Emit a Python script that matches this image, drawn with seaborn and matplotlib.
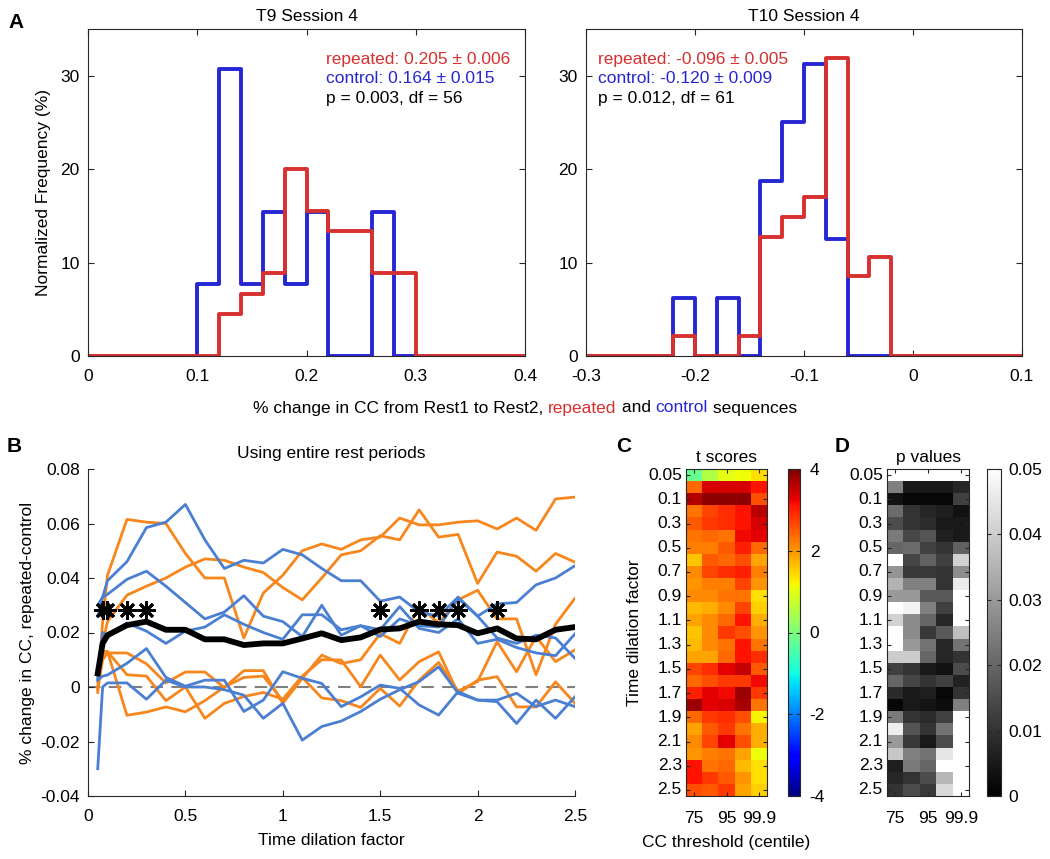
import numpy as np
import pandas as pd
import matplotlib
matplotlib.use("Agg")
import matplotlib.pyplot as plt
from matplotlib.ticker import FuncFormatter
import seaborn as sns

# ---------------- data ----------------
# Panel A: counts per 0.02 bin (stat="percent" turns them into normalized frequency)
t9_edges = np.round(np.linspace(0.0, 0.4, 21), 3)
t9_repeated = [0, 0, 0, 0, 0, 0, 2, 3, 4, 9, 7, 6, 6, 4, 4, 0, 0, 0, 0, 0]
t9_control = [0, 0, 0, 0, 0, 1, 4, 1, 2, 1, 2, 0, 0, 2, 0, 0, 0, 0, 0, 0]
t10_edges = np.round(np.linspace(-0.3, 0.1, 21), 3)
t10_repeated = [0, 0, 0, 0, 1, 0, 0, 1, 6, 7, 8, 15, 4, 5, 0, 0, 0, 0, 0, 0]
t10_control = [0, 0, 0, 0, 1, 0, 1, 0, 3, 4, 5, 2, 0, 0, 0, 0, 0, 0, 0, 0]

t9_stats = ["repeated: 0.205 \u00b1 0.006", "control: 0.164 \u00b1 0.015", "p = 0.003, df = 56"]
t10_stats = ["repeated: -0.096 \u00b1 0.005", "control: -0.120 \u00b1 0.009", "p = 0.012, df = 61"]

# Panel B: time dilation factors and per-participant differences
dilation = [0.05, 0.075, 0.1, 0.2, 0.3, 0.4, 0.5, 0.6, 0.7, 0.8, 0.9, 1.0, 1.1, 1.2,
            1.3, 1.4, 1.5, 1.6, 1.7, 1.8, 1.9, 2.0, 2.1, 2.2, 2.3, 2.4, 2.5]

orange_1 = [-0.002, 0.024, 0.041, 0.0615, 0.0605, 0.060, 0.049, 0.040, 0.040, 0.018, 0.0345,
            0.041, 0.050, 0.0525, 0.0505, 0.054, 0.055, 0.062, 0.0595, 0.0595, 0.0605, 0.061,
            0.058, 0.062, 0.0575, 0.069, 0.0697]
orange_2 = [0.004, 0.016, 0.024, 0.0337, 0.037, 0.040, 0.044, 0.047, 0.0465, 0.044, 0.042,
            0.0365, 0.032, 0.040, 0.0485, 0.050, 0.0555, 0.054, 0.065, 0.055, 0.056, 0.038,
            0.0495, 0.048, 0.0425, 0.049, 0.0458]
orange_3 = [-0.001, 0.010, 0.0125, 0.0125, 0.0085, 0.0015, 0.0055, 0.0055, -0.0002, 0.006,
            0.006, -0.006, 0.0032, 0.0117, 0.0086, 0.010, 0.0196, 0.016, 0.0295, 0.0235, 0.032,
            0.0355, 0.025, 0.025, 0.0045, 0.023, 0.0326]
orange_4 = [0.0, 0.012, 0.013, 0.0045, 0.004, -0.005, 0.0, -0.0115, -0.006, -0.0035, -0.002,
            -0.0045, 0.004, 0.010, 0.0099, 0.0001, 0.0117, 0.0026, 0.0093, 0.0129, -0.0024,
            0.0025, 0.0038, -0.0073, -0.0073, 0.0019, -0.006]
orange_5 = [0.002, 0.013, 0.013, -0.0104, -0.0092, -0.0073, -0.0091, -0.005, 0.0, 0.0035,
            0.004, -0.005, 0.0035, -0.004, -0.005, -0.0075, -0.0005, -0.007, 0.0025, 0.009,
            -0.0015, 0.002, 0.0166, 0.0056, 0.0185, 0.0093, 0.0136]
blue_1 = [0.026, 0.033, 0.039, 0.046, 0.0585, 0.0605, 0.067, 0.054, 0.0435, 0.0465, 0.0455,
          0.0505, 0.0485, 0.0435, 0.039, 0.039, 0.0315, 0.033, 0.0275, 0.026, 0.033, 0.026,
          0.0305, 0.031, 0.0375, 0.040, 0.0445]
blue_2 = [0.030, 0.033, 0.034, 0.0395, 0.0425, 0.037, 0.031, 0.025, 0.0275, 0.0335, 0.026,
          0.024, 0.0185, 0.030, 0.019, 0.0225, 0.021, 0.0295, 0.0215, 0.020, 0.025, 0.016,
          0.0175, 0.0145, 0.0125, 0.0115, 0.0195]
blue_3 = [0.003, 0.020, 0.019, 0.0235, 0.0205, 0.016, 0.0205, 0.022, 0.0265, 0.023, 0.020,
          0.0175, 0.0265, 0.0265, 0.021, 0.0225, 0.0185, 0.025, 0.0225, 0.022, 0.0325, 0.026,
          0.018, 0.016, 0.019, 0.018, 0.0105]
blue_4 = [0.0025, 0.004, 0.0044, 0.0087, 0.0141, 0.0035, 0.0003, 0.0025, 0.0025, -0.009,
          -0.0048, 0.0056, 0.0032, 0.0013, -0.0072, -0.0036, 0.0007, -0.0005, -0.0066,
          -0.0103, -0.0017, -0.0048, -0.0054, -0.0134, -0.0048, -0.0115, -0.0036]
blue_5 = [-0.030, 0.0, 0.0015, 0.0015, -0.0045, 0.0025, 0.0, 0.0, -0.001, -0.003, -0.0115,
          -0.006, -0.0195, -0.0145, -0.0125, -0.009, -0.0045, -0.001, 0.002, 0.0074, -0.0023,
          -0.0048, -0.0048, -0.0023, -0.0072, -0.0048, -0.0072]
mean_diff = [0.005, 0.016, 0.019, 0.0227, 0.024, 0.021, 0.021, 0.0175, 0.0175, 0.0154, 0.016,
             0.016, 0.0178, 0.0197, 0.0172, 0.0182, 0.0211, 0.0215, 0.024, 0.023, 0.0227,
             0.0197, 0.0215, 0.0178, 0.0175, 0.021, 0.022]
signif_x = [0.075, 0.1, 0.2, 0.3, 1.5, 1.7, 1.8, 1.9, 2.1]
signif_y = 0.0283

# Panels C/D: rows = dilation factor, columns = CC threshold centile
centiles = ["75", "90", "95", "99", "99.9"]
t_scores = [
    [-0.2, 0.5, 1.0, 1.1, 1.4], [2.4, 3.4, 3.4, 3.4, 3.1], [3.6, 3.9, 3.9, 3.9, 2.6],
    [2.3, 2.7, 2.9, 3.1, 3.6], [2.5, 2.8, 2.9, 3.1, 3.4], [2.3, 2.4, 2.3, 3.2, 3.3],
    [2.2, 2.2, 2.5, 3.0, 2.4], [1.6, 2.5, 2.4, 2.6, 1.9], [2.1, 2.7, 2.9, 3.0, 2.2],
    [2.0, 2.2, 2.2, 2.7, 2.0], [2.1, 2.1, 2.3, 2.3, 1.4], [1.7, 1.8, 2.1, 2.7, 1.5],
    [1.9, 2.1, 2.4, 3.1, 1.8], [1.6, 2.1, 2.8, 2.6, 2.0], [1.7, 2.1, 2.3, 3.1, 2.3],
    [1.9, 1.9, 2.4, 3.1, 2.9], [2.7, 2.9, 3.3, 3.5, 2.5], [2.4, 2.6, 2.8, 2.8, 3.2],
    [3.0, 3.3, 3.2, 3.8, 2.8], [3.8, 3.3, 3.4, 3.7, 2.3], [2.4, 2.8, 2.9, 2.6, 1.2],
    [1.9, 2.5, 2.8, 2.3, 1.8], [2.1, 2.7, 3.3, 2.6, 1.8], [2.0, 2.2, 2.3, 1.9, 1.1],
    [3.1, 2.3, 2.4, 1.7, 1.4], [3.1, 2.8, 2.5, 2.0, 1.4], [2.6, 2.5, 2.8, 1.9, 1.5],
]
p_values = [
    [0.05, 0.05, 0.05, 0.05, 0.05], [0.025, 0.005, 0.005, 0.005, 0.0075],
    [0.0035, 0.0015, 0.0015, 0.0015, 0.0125], [0.021, 0.010, 0.0075, 0.006, 0.0035],
    [0.015, 0.010, 0.0085, 0.005, 0.005], [0.024, 0.014, 0.0165, 0.0065, 0.005],
    [0.020, 0.021, 0.0125, 0.010, 0.019], [0.05, 0.0135, 0.019, 0.0125, 0.041],
    [0.029, 0.011, 0.011, 0.010, 0.0275], [0.035, 0.025, 0.025, 0.010, 0.046],
    [0.030, 0.030, 0.0175, 0.0175, 0.05], [0.05, 0.0475, 0.025, 0.0125, 0.05],
    [0.041, 0.0275, 0.020, 0.0075, 0.05], [0.05, 0.0275, 0.011, 0.0175, 0.0375],
    [0.05, 0.030, 0.0225, 0.0075, 0.0225], [0.040, 0.040, 0.020, 0.0075, 0.010],
    [0.0125, 0.010, 0.005, 0.0035, 0.015], [0.020, 0.0135, 0.010, 0.0125, 0.0065],
    [0.0085, 0.005, 0.006, 0.0015, 0.010], [0.0015, 0.005, 0.004, 0.0025, 0.025],
    [0.024, 0.010, 0.0085, 0.0125, 0.05], [0.0465, 0.0165, 0.010, 0.0225, 0.05],
    [0.030, 0.011, 0.005, 0.015, 0.05], [0.039, 0.025, 0.0225, 0.045, 0.05],
    [0.006, 0.024, 0.020, 0.05, 0.05], [0.0075, 0.010, 0.015, 0.036, 0.05],
    [0.010, 0.015, 0.011, 0.0425, 0.05],
]

# ---------------- style ----------------
RED = "#d6302f"
BLUE = "#2626d4"
ORANGE = "#f7861c"
LBLUE = "#4a7fd2"
AXC = "#262626"
FS = 12.5

plt.rcParams["font.family"] = ["Liberation Sans", "DejaVu Sans"]
plt.rcParams["axes.unicode_minus"] = False
plt.rcParams["font.size"] = FS

W, H = 1050, 859
fig = plt.figure(figsize=(W / 100, H / 100), dpi=100)


def px_axes(x0, y0, x1, y1):
    return fig.add_axes([x0 / W, 1 - y1 / H, (x1 - x0) / W, (y1 - y0) / H])


gfmt = FuncFormatter(lambda v, _: f"{round(v, 6):g}")


def matlab_box(ax, box=True):
    for s in ax.spines.values():
        s.set_color(AXC)
        s.set_linewidth(0.8)
    if not box:
        ax.spines["top"].set_visible(False)
        ax.spines["right"].set_visible(False)
    ax.tick_params(direction="in", length=4, width=0.8, colors=AXC, labelsize=FS,
                   top=box, right=box, labelcolor="black")
    ax.tick_params(axis="x", pad=9.5)
    ax.tick_params(axis="y", pad=6)


# ---------------- Panel A ----------------
def hist_panel(ax, edges, rep, ctl, stats, xticks, tx):
    centers = np.round((edges[:-1] + edges[1:]) / 2, 4)
    bins = [float(e) for e in edges]
    for counts, color in [(ctl, BLUE), (rep, RED)]:
        hdf = pd.DataFrame({"change": centers, "n": counts})
        sns.histplot(data=hdf, x="change", weights="n", bins=bins, stat="percent",
                     element="step", fill=False, color=color, linewidth=2.8, ax=ax)
    ax.set_xlim(edges[0], edges[-1])
    ax.set_ylim(0, 35)
    ax.set_xticks(xticks)
    ax.set_yticks([0, 10, 20, 30])
    ax.xaxis.set_major_formatter(gfmt)
    ax.set_xlabel("")
    ax.set_ylabel("")
    matlab_box(ax)
    for s, c, yy in zip(stats, [RED, BLUE, "black"], [31.7, 29.7, 27.6]):
        ax.text(tx, yy, s, color=c, fontsize=FS, ha="left", va="center")


axA1 = px_axes(88, 29, 525, 356)
hist_panel(axA1, t9_edges, t9_repeated, t9_control, t9_stats,
           [0, 0.1, 0.2, 0.3, 0.4], 0.218)
axA1.set_title("T9 Session 4", fontsize=FS, pad=6)
axA1.set_ylabel("Normalized Frequency (%)", fontsize=FS, labelpad=7)

axA2 = px_axes(586, 29, 1022, 356)
hist_panel(axA2, t10_edges, t10_repeated, t10_control, t10_stats,
           [-0.3, -0.2, -0.1, 0, 0.1], -0.289)
axA2.set_title("T10 Session 4", fontsize=FS, pad=6)

# ---------------- Panel B ----------------
lines = {"o1": orange_1, "o2": orange_2, "o3": orange_3, "o4": orange_4, "o5": orange_5,
         "b1": blue_1, "b2": blue_2, "b3": blue_3, "b4": blue_4, "b5": blue_5}
rows = []
for name, vals in lines.items():
    grp = "repeated" if name.startswith("o") else "control"
    for xv, yv in zip(dilation, vals):
        rows.append({"dilation": xv, "diff": yv, "subject": name, "group": grp})
df = pd.DataFrame(rows)

axB = px_axes(88, 469, 575, 796)
axB.axhline(0, color="#808080", lw=1.5, dashes=(6, 4), zorder=1)
sns.lineplot(data=df, x="dilation", y="diff", units="subject", hue="group",
             estimator=None, palette={"repeated": ORANGE, "control": LBLUE},
             linewidth=2.0, legend=False, ax=axB)
sns.lineplot(x=dilation, y=mean_diff, color="black", linewidth=4.2, ax=axB)
axB.plot(signif_x, [signif_y] * len(signif_x), linestyle="none", marker=(8, 2, 0),
         markersize=13, markeredgewidth=2.0, color="black")
axB.set_xlim(0, 2.5)
axB.set_ylim(-0.04, 0.08)
axB.set_xticks([0, 0.5, 1, 1.5, 2, 2.5])
axB.set_yticks([-0.04, -0.02, 0, 0.02, 0.04, 0.06, 0.08])
axB.xaxis.set_major_formatter(gfmt)
axB.yaxis.set_major_formatter(gfmt)
matlab_box(axB, box=False)
axB.set_title("Using entire rest periods", fontsize=FS, pad=8)
axB.set_xlabel("Time dilation factor", fontsize=FS, labelpad=6)
axB.set_ylabel("% change in CC, repeated-control", fontsize=FS, labelpad=4)

# ---------------- Panels C and D ----------------
row_ticks = [i + 0.5 for i in range(0, len(dilation), 2)]
row_labels = [f"{dilation[i]:g}" for i in range(0, len(dilation), 2)]
col_ticks = [0.5, 2.5, 4.5]
col_labels = [centiles[0], centiles[2], centiles[4]]


def heat_panel(ax, cax, data, cmap, vmin, vmax, cticks, title, cpad):
    sns.heatmap(np.array(data), ax=ax, cmap=cmap, vmin=vmin, vmax=vmax, cbar_ax=cax,
                cbar_kws={"ticks": cticks})
    ax.set_yticks(row_ticks)
    ax.set_yticklabels(row_labels, rotation=0)
    ax.set_xticks(col_ticks)
    ax.set_xticklabels(col_labels, rotation=0)
    for s in ax.spines.values():
        s.set_visible(True)
        s.set_color(AXC)
        s.set_linewidth(0.8)
    ax.tick_params(direction="in", length=3, width=0.8, colors=AXC, labelcolor="black",
                   labelsize=FS, left=True, right=True, top=True, bottom=True)
    ax.tick_params(axis="x", pad=11)
    ax.tick_params(axis="y", pad=3)
    ax.set_title(title, fontsize=FS, pad=5)
    cb = ax.collections[0].colorbar
    cb.outline.set_linewidth(0.8)
    cb.outline.set_edgecolor(AXC)
    cax.tick_params(direction="in", length=3, width=0.8, colors=AXC, labelcolor="black",
                    labelsize=FS, left=True, right=True, pad=cpad)
    cax.yaxis.set_major_formatter(gfmt)


axC = px_axes(686, 469, 767, 796)
caxC = px_axes(788, 469, 800, 796)
heat_panel(axC, caxC, t_scores, "jet", -4, 4, [-4, -2, 0, 2, 4], "t scores", 7)
axC.set_ylabel("Time dilation factor", fontsize=FS, labelpad=4)
axC.set_xlabel("CC threshold (centile)", fontsize=FS, labelpad=6)

axD = px_axes(887, 469, 969, 796)
caxD = px_axes(987, 469, 1001, 796)
heat_panel(axD, caxD, p_values, "gray", 0, 0.05, [0, 0.01, 0.02, 0.03, 0.04, 0.05],
           "p values", 5)

# ---------------- shared x label for A (multi-coloured) ----------------
pieces = [("% change in CC from Rest1 to Rest2, ", "black"), ("repeated", RED),
          (" and ", "black"), ("control", BLUE), (" sequences", "black")]
fig.canvas.draw()
renderer = fig.canvas.get_renderer()


def text_width(s):
    t = fig.text(0, 0, s + "|", fontsize=FS)
    w = t.get_window_extent(renderer).width
    t.remove()
    t = fig.text(0, 0, "|", fontsize=FS)
    w -= t.get_window_extent(renderer).width
    t.remove()
    return w


full = "".join(p[0] for p in pieces)
total = text_width(full)
x_px = 525 - total / 2
prefix = ""
for s, c in pieces:
    start = x_px + (text_width(prefix) if prefix else 0)
    fig.text(start / W, 1 - 408 / H, s, color=c, fontsize=FS, ha="left", va="center")
    prefix += s

# ---------------- panel letters ----------------
for letter, (lx, ly) in {"A": (16, 23), "B": (14, 447), "C": (624, 447),
                         "D": (842, 447)}.items():
    fig.text(lx / W, 1 - ly / H, letter, fontsize=15, fontweight="bold",
             ha="center", va="center")

fig.savefig("out.png", dpi=100)
